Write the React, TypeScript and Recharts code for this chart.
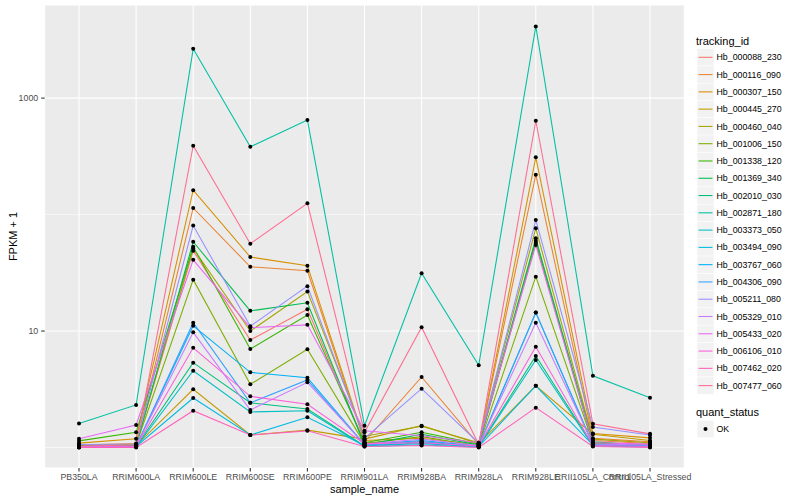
import React from "react";
import { LineChart, Line, XAxis, YAxis, CartesianGrid, ReferenceLine } from "recharts";

const FONT = '"Liberation Sans", Arial, Helvetica, sans-serif';

const sampleNames = [
  "PB350LA",
  "RRIM600LA",
  "RRIM600LE",
  "RRIM600SE",
  "RRIM600PE",
  "RRIM901LA",
  "RRIM928BA",
  "RRIM928LA",
  "RRIM928LE",
  "RRII105LA_Control",
  "RRII105LA_Stressed",
];

const trackingIds = [
  "Hb_000088_230",
  "Hb_000116_090",
  "Hb_000307_150",
  "Hb_000445_270",
  "Hb_000460_040",
  "Hb_001006_150",
  "Hb_001338_120",
  "Hb_001369_340",
  "Hb_002010_030",
  "Hb_002871_180",
  "Hb_003373_050",
  "Hb_003494_090",
  "Hb_003767_060",
  "Hb_004306_090",
  "Hb_005211_080",
  "Hb_005329_010",
  "Hb_005433_020",
  "Hb_006106_010",
  "Hb_007462_020",
  "Hb_007477_060",
];

// ggplot hue palette, 20 levels
const lineColors = [
  "#F8766D", "#EA8331", "#D89000", "#C09B00", "#A3A500",
  "#7CAE00", "#39B600", "#00BB4E", "#00BF7D", "#00C1A3",
  "#00BFC4", "#00BAE0", "#00B0F6", "#35A2FF", "#9590FF",
  "#C77CFF", "#E76BF3", "#FA62DB", "#FF62BC", "#FF6C91",
];

// FPKM + 1, one row per tracking_id, one column per sample_name
const fpkmPlusOne: number[][] = [
  [1.03, 1.05, 48.9, 8.37, 15.4, 1.1, 1.12, 1.04, 57.3, 1.15, 1.08],
  [1.05, 1.08, 114, 35.6, 32.9, 1.12, 4.03, 1.06, 220, 1.2, 1.12],
  [1.09, 1.19, 162, 43.2, 36.4, 1.15, 1.2, 1.05, 310, 1.32, 1.21],
  [1.02, 1.04, 3.16, 1.28, 1.41, 1.18, 1.54, 1.08, 3.39, 1.3, 1.15],
  [1.04, 1.06, 51.2, 10.0, 21.8, 1.25, 1.52, 1.1, 76.2, 1.18, 1.1],
  [1.02, 1.05, 27.6, 3.49, 6.97, 1.08, 1.24, 1.03, 29.3, 1.1, 1.05],
  [1.14, 1.35, 52.9, 7.01, 13.7, 1.1, 1.35, 1.07, 59.6, 1.08, 1.06],
  [1.03, 1.04, 58.4, 14.9, 17.5, 1.05, 1.3, 1.05, 62.5, 1.12, 1.04],
  [1.01, 1.02, 5.35, 2.42, 2.14, 1.03, 1.1, 1.02, 6.1, 1.04, 1.02],
  [1.61, 2.32, 2650, 382, 648, 1.54, 31.3, 5.08, 4125, 4.13, 2.68],
  [1.0, 1.01, 4.56, 2.02, 2.07, 1.02, 1.05, 1.01, 5.64, 1.03, 1.01],
  [1.01, 1.02, 2.66, 1.28, 1.82, 1.04, 1.08, 1.02, 3.39, 1.05, 1.03],
  [1.02, 1.03, 11.1, 4.42, 3.97, 1.06, 1.15, 1.03, 14.4, 1.06, 1.04],
  [1.01, 1.02, 11.8, 2.42, 3.8, 1.05, 1.12, 1.02, 14.4, 1.05, 1.03],
  [1.06, 1.07, 80.5, 11.0, 24.3, 1.2, 3.2, 1.09, 89.7, 1.5, 1.28],
  [1.02, 1.03, 9.75, 2.1, 3.63, 1.07, 1.18, 1.04, 11.8, 1.07, 1.05],
  [1.19, 1.56, 40.9, 10.7, 11.3, 1.39, 1.26, 1.1, 54.7, 1.1, 1.07],
  [1.01, 1.02, 7.19, 2.75, 2.35, 1.08, 1.1, 1.03, 7.33, 1.04, 1.02],
  [1.0, 1.0, 2.07, 1.28, 1.39, 1.02, 1.04, 1.0, 2.2, 1.02, 1.0],
  [1.03, 1.05, 390, 56.2, 125, 1.35, 10.8, 1.06, 639, 1.6, 1.31],
];

const majorBreaks = [10, 1000];
const minorBreaks = [1, 100];
const quantStatus = ["OK"];

const rows = sampleNames.map((name, i) => {
  const row: Record<string, string | number> = { sample_name: name };
  trackingIds.forEach((id, k) => {
    row[id] = fpkmPlusOne[k][i];
  });
  return row;
});

const KEY_H = 17.28;

// legend drawn as its own svg laid over the chart
const Legends = () => (
  <svg
    width={800}
    height={500}
    style={{ position: "absolute", left: 0, top: 0, pointerEvents: "none" }}
    fontFamily={FONT}
  >
    <text x={696} y={44.5} fontSize={11} fill="#000">
      tracking_id
    </text>
    {trackingIds.map((id, i) => {
      const cy = 57.3 + i * KEY_H;
      return (
        <g key={id}>
          <rect x={697} y={cy - KEY_H / 2} width={17} height={KEY_H} fill="#F2F2F2" stroke="#FFFFFF" strokeWidth={0.5} />
          <line x1={698.5} x2={712.5} y1={cy} y2={cy} stroke={lineColors[i]} strokeWidth={1.07} />
          <text x={716.5} y={cy + 3.1} fontSize={8.8} fill="#000">
            {id}
          </text>
        </g>
      );
    })}
    <text x={696} y={416} fontSize={11} fill="#000">
      quant_status
    </text>
    {quantStatus.map((s, i) => {
      const cy = 429 + i * KEY_H;
      return (
        <g key={s}>
          <rect x={697} y={cy - KEY_H / 2} width={17} height={KEY_H} fill="#F2F2F2" stroke="#FFFFFF" strokeWidth={0.5} />
          <circle cx={705.5} cy={cy} r={2} fill="#000" />
          <text x={716.5} y={cy + 3.1} fontSize={8.8} fill="#000">
            {s}
          </text>
        </g>
      );
    })}
  </svg>
);

export default function App() {
  return (
    <div
      style={{
        position: "absolute",
        left: 0,
        top: 0,
        width: 800,
        height: 500,
        background: "#fff",
        fontFamily: FONT,
      }}
    >
      <LineChart
        width={800}
        height={500}
        data={rows}
        margin={{ top: 5, right: 115.7, bottom: 0, left: 0 }}
      >
        <CartesianGrid fill="#EBEBEB" stroke="#FFFFFF" strokeWidth={1.07} />
        {minorBreaks.map((b) => (
          <ReferenceLine key={b} y={b} stroke="#FFFFFF" strokeWidth={0.55} />
        ))}
        <XAxis
          dataKey="sample_name"
          type="category"
          interval={0}
          height={32}
          padding={{ left: 34.3, right: 34.3 }}
          axisLine={false}
          tickSize={3.5}
          tickMargin={2}
          tickLine={{ stroke: "#333333", strokeWidth: 1.07 }}
          tick={{ fill: "#4D4D4D", fontSize: 8.8, fontFamily: FONT }}
          label={{
            content: () => (
              <text x={364.5} y={493} textAnchor="middle" fontSize={11} fontFamily={FONT} fill="#000">
                sample_name
              </text>
            ),
          }}
        />
        <YAxis
          type="number"
          scale="log"
          domain={[0.667, 6300]}
          allowDataOverflow
          ticks={majorBreaks}
          width={44.7}
          axisLine={false}
          tickSize={3.5}
          tickMargin={3}
          tickLine={{ stroke: "#333333", strokeWidth: 1.07 }}
          tick={{ fill: "#4D4D4D", fontSize: 8.8, fontFamily: FONT }}
          label={{
            content: () => (
              <text
                x={16.5}
                y={236.5}
                transform="rotate(-90 16.5 236.5)"
                textAnchor="middle"
                fontSize={11}
                fontFamily={FONT}
                fill="#000"
              >
                FPKM + 1
              </text>
            ),
          }}
        />
        {trackingIds.map((id, k) => (
          <Line
            key={id}
            type="linear"
            dataKey={id}
            stroke={lineColors[k]}
            strokeWidth={1.07}
            dot={false}
            activeDot={false}
            isAnimationActive={false}
          />
        ))}
        {trackingIds.map((id) => (
          <Line
            key={"pt_" + id}
            type="linear"
            dataKey={id}
            stroke="none"
            dot={{ r: 2, fill: "#000", stroke: "none" }}
            activeDot={false}
            legendType="none"
            isAnimationActive={false}
          />
        ))}
      </LineChart>
      <Legends />
    </div>
  );
}
